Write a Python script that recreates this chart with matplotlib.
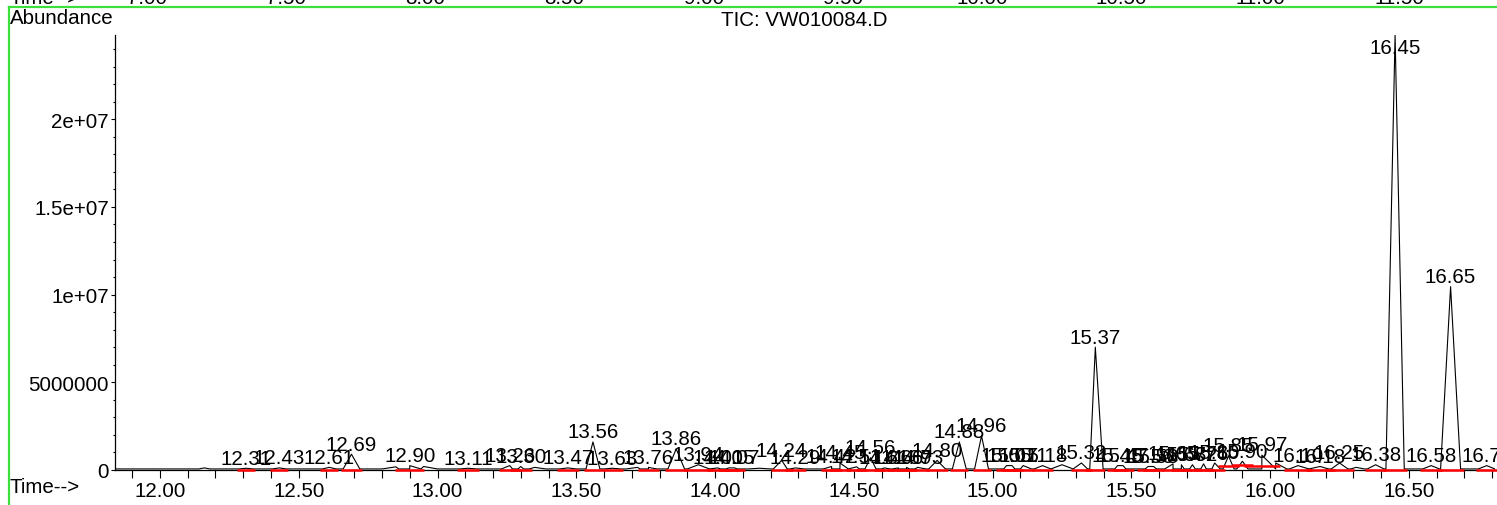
import numpy as np
import matplotlib
matplotlib.use('Agg')
import matplotlib.pyplot as plt
from matplotlib.lines import Line2D
from matplotlib.ticker import MultipleLocator
from matplotlib.transforms import blended_transform_factory

plt.rcParams['font.family'] = ['Liberation Sans', 'DejaVu Sans']
FS = 14.8

# peak table: retention time (min), apex abundance, label, half width (min)
peak_rt = [12.16, 12.31, 12.43, 12.61, 12.69, 12.85, 12.90, 12.95, 13.11, 13.26, 13.30, 13.35,
           13.47, 13.56, 13.63, 13.72, 13.76, 13.86, 13.94, 14.01, 14.05, 14.07, 14.16, 14.24,
           14.29, 14.42, 14.45, 14.51, 14.56, 14.61, 14.66, 14.69, 14.73, 14.80, 14.88, 14.96,
           15.05, 15.07, 15.11, 15.18, 15.25, 15.32, 15.37, 15.45, 15.47, 15.56, 15.58, 15.65,
           15.68, 15.72, 15.76, 15.80, 15.85, 15.90, 15.97, 16.02, 16.10, 16.18, 16.25, 16.31,
           16.38, 16.45, 16.58, 16.65, 16.78]
peak_h = [0.12e6, 0.10e6, 0.12e6, 0.15e6, 0.90e6, 0.18e6, 0.25e6, 0.20e6, 0.10e6, 0.25e6, 0.20e6, 0.15e6,
          0.12e6, 1.60e6, 0.10e6, 0.15e6, 0.15e6, 1.20e6, 0.30e6, 0.12e6, 0.12e6, 0.12e6, 0.10e6, 0.55e6,
          0.12e6, 0.20e6, 0.40e6, 0.18e6, 0.70e6, 0.12e6, 0.12e6, 0.15e6, 0.15e6, 0.55e6, 1.60e6, 1.95e6,
          0.25e6, 0.25e6, 0.25e6, 0.25e6, 0.30e6, 0.40e6, 7.00e6, 0.25e6, 0.25e6, 0.20e6, 0.20e6, 0.35e6,
          0.30e6, 0.30e6, 0.35e6, 0.40e6, 0.80e6, 0.50e6, 0.85e6, 0.40e6, 0.25e6, 0.20e6, 0.40e6, 0.15e6,
          0.30e6, 24.8e6, 0.25e6, 10.45e6, 0.25e6]
peak_lbl = ['', '12.31', '12.43', '12.61', '12.69', '', '12.90', '', '13.11', '13.26', '13.30', '',
            '13.47', '13.56', '13.63', '', '13.76', '13.86', '13.94', '14.01', '14.05', '14.07', '', '14.24',
            '14.29', '14.42', '14.45', '14.51', '14.56', '14.61', '14.66', '14.69', '14.73', '14.80', '14.88', '14.96',
            '15.05', '15.07', '15.11', '15.18', '', '15.32', '15.37', '15.45', '15.47', '15.56', '15.58', '15.65',
            '15.68', '15.72', '15.76', '15.80', '15.85', '15.90', '15.97', '', '16.10', '16.18', '16.25', '',
            '16.38', '16.45', '16.58', '16.65', '16.78']
peak_hw = [0.02, 0.025, 0.025, 0.025, 0.03, 0.05, 0.04, 0.05, 0.03, 0.03, 0.03, 0.04,
           0.03, 0.025, 0.03, 0.04, 0.03, 0.03, 0.04, 0.03, 0.03, 0.03, 0.04, 0.03,
           0.03, 0.03, 0.03, 0.03, 0.04, 0.03, 0.03, 0.03, 0.03, 0.03, 0.025, 0.025,
           0.03, 0.03, 0.03, 0.03, 0.04, 0.03, 0.028, 0.03, 0.03, 0.03, 0.03, 0.03,
           0.03, 0.03, 0.03, 0.03, 0.03, 0.03, 0.05, 0.05, 0.04, 0.04, 0.04, 0.03,
           0.03, 0.033, 0.03, 0.036, 0.03]
# integration baseline level (red), raised under the 15.85-15.97 cluster
int_base = {'15.85': 0.25e6, '15.90': 0.30e6, '15.97': 0.25e6}

trace_ends = [11.838, 16.81]
noise_level = 0.06e6

x_ticks = [12.0, 12.5, 13.0, 13.5, 14.0, 14.5, 15.0, 15.5, 16.0, 16.5]
x_ticklabels = ['12.00', '12.50', '13.00', '13.50', '14.00', '14.50', '15.00', '15.50', '16.00', '16.50']
y_ticks = [0, 5e6, 1e7, 1.5e7, 2e7]
y_ticklabels = ['0', '5000000', '1e+07', '1.5e+07', '2e+07']
ymax = 24.8e6

# axis of the panel above (only its tick labels peek in at the top)
prev_ticks = [7.0, 7.5, 8.0, 8.5, 9.0, 9.5, 10.0, 10.5, 11.0, 11.5]
prev_ticklabels = ['7.00', '7.50', '8.00', '8.50', '9.00', '9.50', '10.00', '10.50', '11.00', '11.50']

W, H = 1497, 506
fig = plt.figure(figsize=(W / 100, H / 100), dpi=100)
ax = fig.add_axes([115 / W, 35 / H, 1380 / W, 435 / H])

# trace
pts_t = list(trace_ends)
pts_y = [noise_level, noise_level]
for rt, h, hw in zip(peak_rt, peak_h, peak_hw):
    pts_t += [rt - hw, rt, rt + hw]
    pts_y += [noise_level, h, noise_level]
order = np.argsort(pts_t, kind='stable')
ax.plot(np.array(pts_t)[order], np.array(pts_y)[order], color='black', lw=0.8, zorder=2)

# integration baselines and labels
for rt, h, lbl, hw in zip(peak_rt, peak_h, peak_lbl, peak_hw):
    if not lbl:
        continue
    b = int_base.get(lbl, 0.0)
    ax.hlines(b, rt - hw * 1.3, rt + hw * 1.3, color='red', lw=1.8, zorder=3, clip_on=False)
    if h >= ymax * 0.99:
        ax.annotate(lbl, (rt, ymax), xytext=(0, -2.5), textcoords='offset points',
                    ha='center', va='top', fontsize=FS)
    else:
        ax.annotate(lbl, (rt, h), xytext=(0, 0.5), textcoords='offset points',
                    ha='center', va='bottom', fontsize=FS)

ax.set_xlim(trace_ends[0], trace_ends[1])
ax.set_ylim(0, ymax)
ax.set_xticks(x_ticks)
ax.set_xticklabels(x_ticklabels)
ax.set_yticks(y_ticks)
ax.set_yticklabels(y_ticklabels)
ax.xaxis.set_minor_locator(MultipleLocator(0.1))
ax.yaxis.set_minor_locator(MultipleLocator(1e6))
ax.tick_params(axis='x', which='both', direction='out', length=5.5, width=0.8, pad=2.5, labelsize=FS)
ax.tick_params(axis='y', which='major', direction='out', length=3, width=0.8, pad=1.5, labelsize=FS)
ax.tick_params(axis='y', which='minor', direction='out', length=1.5, width=0.8)
for s in ['top', 'right']:
    ax.spines[s].set_visible(False)
for s in ['left', 'bottom']:
    ax.spines[s].set_linewidth(0.9)

fig.text(10 / W, 1 - 19 / H, 'Abundance', fontsize=FS, va='center', ha='left')
fig.text(804 / W, 1 - 20 / H, 'TIC: VW010084.D', fontsize=FS, va='center', ha='center')
fig.text(10 / W, 1 - 488 / H, 'Time-->', fontsize=FS, va='center', ha='left')

# cut-off tick labels of the previous panel
ax_prev = fig.add_axes([115 / W, 1.0, 1380 / W, 0.01])
ax_prev.set_xlim(6.885, 11.842)
ax_prev.axis('off')
tr = blended_transform_factory(ax_prev.transData, fig.transFigure)
for t, s in zip(prev_ticks, prev_ticklabels):
    fig.text(t, 1 - 3.5 / H, s, transform=tr, fontsize=FS, ha='center', va='baseline')
fig.text(10 / W, 1 - 3.5 / H, 'Time-->', fontsize=FS, ha='left', va='baseline')

# green frame of the panel
green = '#3ce03c'
fig.add_artist(Line2D([9 / W, 1], [1 - 8 / H, 1 - 8 / H], transform=fig.transFigure, color=green, lw=1.6))
fig.add_artist(Line2D([9 / W, 9 / W], [0, 1 - 8 / H], transform=fig.transFigure, color=green, lw=1.6))

fig.savefig('out.png', dpi=100)
